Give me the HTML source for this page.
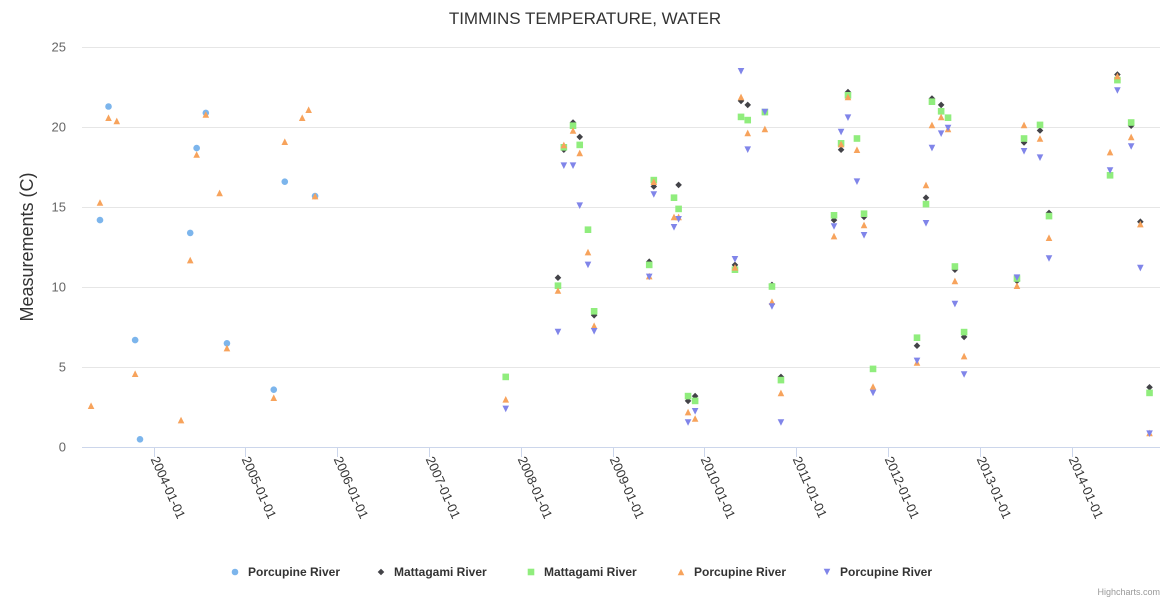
<!DOCTYPE html>
<html><head><meta charset="utf-8"><style>
body{margin:0;background:#fff;font-family:"Liberation Sans",sans-serif}
svg{display:block}
</style></head><body>
<svg id="c" width="1170" height="600" xmlns="http://www.w3.org/2000/svg">
<text x="585" y="24" text-anchor="middle" font-size="17" fill="#333">TIMMINS TEMPERATURE, WATER</text>
<text transform="translate(33,247) rotate(-90)" text-anchor="middle" font-size="18" fill="#333">Measurements (C)</text>
<text x="1160" y="595" text-anchor="end" font-size="9" fill="#999">Highcharts.com</text>
<g id="grid"></g><g id="marks"></g><g id="legend"></g>
</svg>
<script>
const yTicks=[0,5,10,15,20,25];
const xTickYears=[2004,2005,2006,2007,2008,2009,2010,2011,2012,2013,2014];
const seriesNames=["Porcupine River","Mattagami River","Mattagami River","Porcupine River","Porcupine River"];
const seriesColors=["#7cb5ec","#434348","#90ed7d","#f7a35c","#8085e9"];
const seriesShapes=["circle","diamond","square","triangle","triangle-down"];
const porcupineA=[[2003.417,14.2],[2003.51,21.3],[2003.80,6.7],[2003.853,0.5],[2004.40,13.4],[2004.47,18.7],[2004.57,20.9],[2004.80,6.5],[2005.31,3.6],[2005.43,16.6],[2005.76,15.7]];
const mattagamiA=[[2008.406,10.6],[2008.47,18.6],[2008.57,20.3],[2008.643,19.4],[2008.80,8.25],[2009.40,11.6],[2009.45,16.3],[2009.72,16.4],[2009.823,2.9],[2009.90,3.2],[2010.334,11.4],[2010.40,21.65],[2010.473,21.4],[2010.737,10.15],[2010.835,4.4],[2011.413,14.2],[2011.49,18.6],[2011.565,22.2],[2011.74,14.4],[2012.317,6.35],[2012.415,15.6],[2012.48,21.8],[2012.58,21.4],[2012.73,11.1],[2012.83,6.9],[2013.406,10.4],[2013.483,19.05],[2013.657,19.8],[2013.755,14.65],[2014.50,23.3],[2014.65,20.1],[2014.75,14.1],[2014.85,3.75]];
const mattagamiB=[[2007.837,4.4],[2008.406,10.1],[2008.47,18.75],[2008.57,20.1],[2008.643,18.9],[2008.733,13.6],[2008.80,8.5],[2009.40,11.4],[2009.45,16.7],[2009.67,15.6],[2009.72,14.9],[2009.823,3.2],[2009.90,2.9],[2010.334,11.1],[2010.40,20.65],[2010.473,20.45],[2010.66,20.95],[2010.737,10.05],[2010.835,4.2],[2011.413,14.5],[2011.49,19.0],[2011.565,22.0],[2011.663,19.3],[2011.74,14.6],[2011.838,4.9],[2012.317,6.85],[2012.415,15.2],[2012.48,21.6],[2012.58,21.0],[2012.655,20.6],[2012.73,11.3],[2012.83,7.2],[2013.406,10.55],[2013.483,19.3],[2013.657,20.15],[2013.755,14.45],[2014.42,17.0],[2014.50,22.95],[2014.65,20.3],[2014.85,3.4]];
const porcupineB=[[2003.32,2.6],[2003.417,15.3],[2003.51,20.6],[2003.60,20.4],[2003.80,4.6],[2004.30,1.7],[2004.40,11.7],[2004.47,18.3],[2004.57,20.8],[2004.72,15.9],[2004.80,6.2],[2005.31,3.1],[2005.43,19.1],[2005.62,20.6],[2005.69,21.1],[2005.76,15.7],[2007.837,3.0],[2008.406,9.8],[2008.47,18.9],[2008.57,19.8],[2008.643,18.4],[2008.733,12.2],[2008.80,7.6],[2009.40,10.7],[2009.45,16.6],[2009.67,14.4],[2009.72,14.4],[2009.823,2.2],[2009.90,1.8],[2010.334,11.25],[2010.40,21.9],[2010.473,19.65],[2010.66,19.9],[2010.737,9.1],[2010.835,3.4],[2011.413,13.2],[2011.49,18.95],[2011.565,21.9],[2011.663,18.6],[2011.74,13.9],[2011.838,3.8],[2012.317,5.3],[2012.415,16.4],[2012.48,20.15],[2012.58,20.65],[2012.655,19.9],[2012.73,10.4],[2012.83,5.7],[2013.406,10.1],[2013.483,20.15],[2013.657,19.3],[2013.755,13.1],[2014.42,18.45],[2014.50,23.2],[2014.65,19.4],[2014.75,13.95],[2014.85,0.9]];
const porcupineC=[[2007.837,2.4],[2008.406,7.2],[2008.47,17.6],[2008.57,17.6],[2008.643,15.1],[2008.733,11.4],[2008.80,7.25],[2009.40,10.65],[2009.45,15.8],[2009.67,13.75],[2009.72,14.25],[2009.823,1.55],[2009.90,2.25],[2010.334,11.75],[2010.40,23.5],[2010.473,18.6],[2010.66,20.95],[2010.737,8.8],[2010.835,1.55],[2011.413,13.8],[2011.49,19.7],[2011.565,20.6],[2011.663,16.6],[2011.74,13.25],[2011.838,3.4],[2012.317,5.4],[2012.415,14.0],[2012.48,18.7],[2012.58,19.6],[2012.655,19.95],[2012.73,8.95],[2012.83,4.55],[2013.406,10.6],[2013.483,18.5],[2013.657,18.1],[2013.755,11.8],[2014.42,17.3],[2014.50,22.3],[2014.65,18.8],[2014.75,11.2],[2014.85,0.85]];
const allSeries=[porcupineA,mattagamiA,mattagamiB,porcupineB,porcupineC];
const NS="http://www.w3.org/2000/svg";
const L=82,R=1160,T=47.3,B=447.3;
const xs=v=>153.5+(v-2004)*91.8;
const ys=v=>B-(v/25)*(B-T);
function mk(tag,attrs,parent){const e=document.createElementNS(NS,tag);for(const k in attrs)e.setAttribute(k,attrs[k]);parent.appendChild(e);return e;}
const grid=document.getElementById('grid'),marks=document.getElementById('marks'),leg=document.getElementById('legend');
yTicks.forEach(t=>{
 const y=Math.round(ys(t))+0.5;
 if(t>0){const g=mk('line',{x1:L,x2:R,y1:y,y2:y,stroke:'#e6e6e6'},grid);
 
 }
 const tx=mk('text',{x:66,y:y+4,'text-anchor':'end','font-size':13,fill:'#666'},grid);
 tx.textContent=t;
 
 
});
const ax=mk('line',{x1:L,x2:R,y1:447.5,y2:447.5,stroke:'#ccd6eb'},grid);


xTickYears.forEach(yr=>{
 const x=Math.round(xs(yr))+0.5;
 const tk=mk('line',{x1:x,x2:x,y1:447,y2:457,stroke:'#ccd6eb'},grid);
 
 
 const tx=mk('text',{transform:`translate(${x-4},459) rotate(66)`,'font-size':13,fill:'#333'},grid);
 tx.textContent=yr+'-01-01';
 
 
});
function marker(shape,x,y,color,parent,r){
 r=r||3.3;let e;
 if(shape==='circle')e=mk('circle',{cx:x,cy:y,r:r,fill:color},parent);
 else if(shape==='square')e=mk('rect',{x:x-r,y:y-r,width:2*r,height:2*r,fill:color},parent);
 else if(shape==='diamond')e=mk('path',{d:`M${x} ${y-r}L${x+r} ${y}L${x} ${y+r}L${x-r} ${y}Z`,fill:color},parent);
 else if(shape==='triangle')e=mk('path',{d:`M${x} ${y-r}L${x+r} ${y+r}L${x-r} ${y+r}Z`,fill:color},parent);
 else e=mk('path',{d:`M${x-r} ${y-r}L${x+r} ${y-r}L${x} ${y+r}Z`,fill:color},parent);
 return e;
}
[0,1,2,3,4].forEach(si=>{
 const g=mk('g',{},marks);
 
 
 allSeries[si].forEach(p=>{
  const m=marker(seriesShapes[si],xs(p[0]),ys(p[1]),seriesColors[si],g);
  
  
 });
});
const legX=[235,381,531,681,827];
seriesNames.forEach((n,i)=>{
 const g=mk('g',{},leg);
 
 
 marker(seriesShapes[i],legX[i],572,seriesColors[i],g);
 const t=mk('text',{x:legX[i]+13,y:576,'font-size':12,'font-weight':'bold',fill:'#333'},g);
 t.textContent=n;
});
</script>
</body></html>
